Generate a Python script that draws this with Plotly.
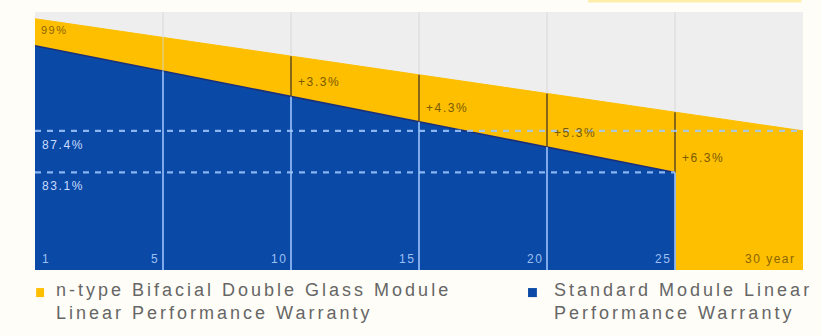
import numpy as np
import plotly.graph_objects as go

# ---- data ----
pos = [0, 5, 10, 15, 20, 25, 30]                 # segment positions
tick_labels = ["1", "5", "10", "15", "20", "25", "30 year"]
ntype_x = [0, 30]
ntype_y = [99.0, 87.4]                           # n-type bifacial double glass
std_x = [0, 25]
std_y = [96.2, 83.1]                             # standard module
gap_pos = [10, 15, 20, 25]
gap_labels = ["+3.3%", "+4.3%", "+5.3%", "+6.3%"]
ref_levels = [87.4, 83.1]
ref_labels = ["87.4%", "83.1%"]
ref_end = [30, 25]
legend_lines = [["n-type Bifacial Double Glass Module", "Linear Performance Warranty"],
                ["Standard Module Linear", "Performance Warranty"]]

YEL = "#fdbf00"
BLU = "#0a49a6"
GRAY = "#eeeeee"
YMIN, YMAX = 73.0, 99.7


def spaced(s, px):
    return '<span style="letter-spacing:%.1fpx">%s</span>' % (px, s)


fig = go.Figure()
fig.add_trace(go.Scatter(x=ntype_x, y=ntype_y, fill="tozeroy", mode="lines",
                         line=dict(color=YEL, width=1), fillcolor=YEL,
                         hoverinfo="skip", showlegend=False))
fig.add_trace(go.Scatter(x=std_x, y=std_y, fill="tozeroy", mode="lines",
                         line=dict(color="#1b2f7a", width=1.5), fillcolor=BLU,
                         hoverinfo="skip", showlegend=False))


def yel_at(x):
    return float(np.interp(x, ntype_x, ntype_y))


def blu_at(x):
    return float(np.interp(x, std_x, std_y))


shapes = []
# vertical dividers
for p in pos[1:-1]:
    yt = yel_at(p)
    yb = blu_at(p)
    shapes.append(dict(type="line", x0=p, x1=p, y0=yt, y1=YMAX, xref="x", yref="y",
                       line=dict(color="#dcdcdc", width=1.2), layer="above"))
    shapes.append(dict(type="line", x0=p, x1=p, y0=YMIN, y1=yb, xref="x", yref="y",
                       line=dict(color="#8cb6f2", width=1.8), layer="above"))
    col = "rgba(200,220,255,0.55)" if p == 5 else "#4a3a22"
    shapes.append(dict(type="line", x0=p, x1=p, y0=yb, y1=yt, xref="x", yref="y",
                       line=dict(color=col, width=1.3), layer="above"))

# dashed reference levels
for lv, xe in zip(ref_levels, ref_end):
    shapes.append(dict(type="line", x0=0, x1=xe, y0=lv, y1=lv, xref="x", yref="y",
                       line=dict(color="rgba(160,200,255,0.85)", width=2.4, dash="6px,6px"),
                       layer="above"))

# legend squares
shapes.append(dict(type="rect", xref="paper", yref="paper",
                   x0=0.0015, x1=0.0118, y0=-0.070, y1=-0.105,
                   fillcolor=YEL, line=dict(width=0)))
shapes.append(dict(type="rect", xref="paper", yref="paper",
                   x0=0.642, x1=0.6535, y0=-0.070, y1=-0.105,
                   fillcolor=BLU, line=dict(width=0)))
# thin strip at the top right
shapes.append(dict(type="rect", xref="paper", yref="paper",
                   x0=0.72, x1=0.998, y0=1.037, y1=1.047,
                   fillcolor="#ffeeaa", line=dict(width=0)))

ann = []
FONT = "Liberation Sans, Arial, sans-serif"
ann.append(dict(x=0, y=ntype_y[0], xref="x", yref="y", text=spaced("99%", 1.5),
                showarrow=False, xanchor="left", yanchor="top", xshift=4, yshift=-3,
                font=dict(family=FONT, size=11, color="#8a6500")))
for lv, lab in zip(ref_levels, ref_labels):
    ann.append(dict(x=0, y=lv, xref="x", yref="y", text=spaced(lab, 1.6), showarrow=False,
                    xanchor="left", yanchor="top", xshift=5, yshift=-5,
                    font=dict(family=FONT, size=12, color="#c9dcff")))
for p, lab in zip(gap_pos, gap_labels):
    ann.append(dict(x=p, y=blu_at(p), xref="x", yref="y", text=spaced(lab, 1.6),
                    showarrow=False, xanchor="left", yanchor="middle", xshift=5, yshift=14,
                    font=dict(family=FONT, size=12, color="#7a5a00")))
for i, (p, lab) in enumerate(zip(pos, tick_labels)):
    if i == 0:
        xa, xs, col = "left", 5, "#9cc0f5"
    elif i == len(pos) - 1:
        xa, xs, col = "right", -5, "#8a6500"
    else:
        xa, xs, col = "right", -2, "#9cc0f5"
    ann.append(dict(x=p, y=0, xref="x", yref="paper", text=spaced(lab, 1.5), showarrow=False,
                    xanchor=xa, yanchor="bottom", xshift=xs, yshift=2,
                    font=dict(family=FONT, size=12, color=col)))
for xp, lines in zip([0.026, 0.675], legend_lines):
    txt = "<br>".join(spaced(s, 3.0) for s in lines)
    ann.append(dict(x=xp, y=-0.035, xref="paper", yref="paper", text=txt,
                    showarrow=False, xanchor="left", yanchor="top", align="left",
                    borderpad=0, font=dict(family=FONT, size=18, color="#666666")))

fig.update_layout(
    width=821, height=336,
    margin=dict(l=35, r=18, t=12, b=66),
    paper_bgcolor="#fffdf7",
    plot_bgcolor=GRAY,
    xaxis=dict(range=[0, 30], showgrid=False, zeroline=False, showticklabels=False,
               fixedrange=True),
    yaxis=dict(range=[YMIN, YMAX], showgrid=False, zeroline=False, showticklabels=False,
               fixedrange=True),
    shapes=shapes,
    annotations=ann,
    showlegend=False,
)

fig.write_html("out.html")
